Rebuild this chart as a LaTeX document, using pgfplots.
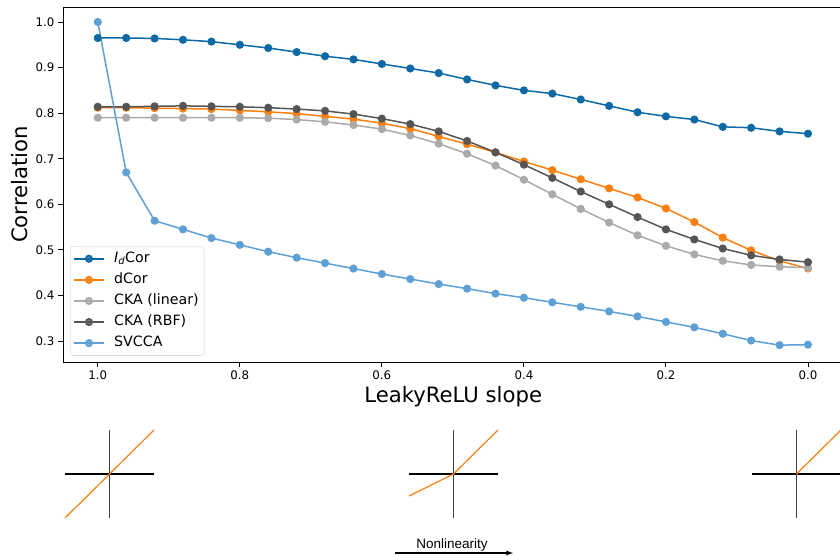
\documentclass[border=0pt]{standalone}
\usepackage{fontspec}
\setmainfont{DejaVu Sans}
\newfontfamily\lib{Liberation Sans}
\usepackage{pgfplots}
\pgfplotsset{compat=1.18}
\usepackage{pgfplotstable}

\definecolor{cidcor}{HTML}{0B6AA6}
\definecolor{cdcor}{HTML}{FF7F0E}
\definecolor{ckal}{HTML}{AAAAAA}
\definecolor{ckar}{HTML}{555555}
\definecolor{csvcca}{HTML}{5DA0D6}

% slope, IdCor, dCor, CKA linear, CKA RBF, SVCCA
\pgfplotstableread{
s    idcor dcor  ckal  ckar  svcca
1.00 0.965 0.812 0.790 0.814 1.000
0.96 0.965 0.812 0.790 0.814 0.670
0.92 0.964 0.811 0.790 0.815 0.564
0.88 0.961 0.810 0.790 0.816 0.545
0.84 0.957 0.809 0.790 0.815 0.526
0.80 0.950 0.806 0.790 0.814 0.511
0.76 0.943 0.803 0.789 0.812 0.496
0.72 0.934 0.799 0.786 0.809 0.483
0.68 0.925 0.793 0.781 0.805 0.471
0.64 0.918 0.787 0.774 0.798 0.459
0.60 0.908 0.778 0.765 0.788 0.447
0.56 0.898 0.766 0.751 0.776 0.436
0.52 0.888 0.749 0.733 0.760 0.425
0.48 0.874 0.732 0.711 0.739 0.415
0.44 0.861 0.714 0.685 0.714 0.404
0.40 0.850 0.694 0.654 0.687 0.395
0.36 0.843 0.675 0.622 0.658 0.385
0.32 0.830 0.655 0.590 0.628 0.375
0.28 0.816 0.635 0.560 0.600 0.365
0.24 0.802 0.615 0.532 0.572 0.354
0.20 0.793 0.591 0.509 0.545 0.342
0.16 0.786 0.561 0.490 0.523 0.330
0.12 0.770 0.527 0.476 0.503 0.316
0.08 0.768 0.499 0.467 0.488 0.301
0.04 0.760 0.476 0.463 0.479 0.291
0.00 0.755 0.459 0.461 0.473 0.292
}\corr

\begin{document}
\begin{tikzpicture}[x=1pt,y=1pt]
\useasboundingbox (0,0) rectangle (840,556);

\begin{axis}[
    at={(63pt,194pt)}, anchor=south west,
    scale only axis, width=780.5pt, height=355pt,
    x dir=reverse,
    xmin=-0.05, xmax=1.049, ymin=0.254, ymax=1.033,
    xtick={0,0.2,0.4,0.6,0.8,1},
    ytick={0.3,0.4,0.5,0.6,0.7,0.8,0.9,1.0},
    tick pos=left, tick align=outside,
    major tick length=5pt,
    tick style={black, line width=0.9pt},
    axis line style={line width=0.9pt},
    /pgf/number format/assume math mode=true,
    /pgf/number format/.cd, fixed, fixed zerofill, precision=1, /pgfplots/.cd,
    ticklabel style={font=\fontsize{11.8}{13}\selectfont},
    xlabel={LeakyReLU slope}, ylabel={Correlation},
    label style={font=\fontsize{21.2}{24}\selectfont},
    xlabel style={at={(axis description cs:0.5,-0.1155)}, anchor=base},
    ylabel style={at={(axis description cs:-0.0461,0.5)}, anchor=base},
    ser/.style={line width=1.5pt, mark=*, mark size=3.3pt, mark options={solid}},
    legend cell align=left,
    legend image code/.code={%
        \draw[mark repeat=2,mark phase=2] plot coordinates {(0pt,0pt)(15pt,0pt)(30pt,0pt)};},
    legend style={at={(axis description cs:0.009,0.018)}, anchor=south west,
        rounded corners=2.5pt, draw=black!20, fill=white, fill opacity=0.8,
        draw opacity=1, text opacity=1,
        font=\fontsize{14.2}{16}\selectfont,
        nodes={inner sep=2.5pt, text height=10pt, text depth=3.5pt},
        row sep=2.6pt, column sep=7pt, inner xsep=3pt, inner ysep=3pt},
]
\addplot[cidcor, ser] table[x=s,y=idcor] {\corr};
\addlegendentry{{\itshape I}\textsubscript{\itshape d}Cor}
\addplot[cdcor, ser] table[x=s,y=dcor] {\corr};
\addlegendentry{dCor}
\addplot[ckal, ser] table[x=s,y=ckal] {\corr};
\addlegendentry{CKA (linear)}
\addplot[ckar, ser] table[x=s,y=ckar] {\corr};
\addlegendentry{CKA (RBF)}
\addplot[csvcca, ser] table[x=s,y=svcca] {\corr};
\addlegendentry{SVCCA}
\end{axis}

% LeakyReLU shapes
\pgfplotsset{relu/.style={at={(#1,38pt)}, anchor=south west, scale only axis,
    width=89pt, height=88pt, hide axis, xmin=-1, xmax=1, ymin=-1, ymax=1, clip=false}}
\begin{axis}[relu=65pt]
\addplot[black, line width=1.1pt] coordinates {(-1,0) (1,0)};
\addplot[black!75, line width=0.7pt] coordinates {(0,-1) (0,1)};
\addplot[cdcor, line width=1.2pt] coordinates {(-1,-1) (0,0) (1,1)};
\end{axis}
\begin{axis}[relu=409pt]
\addplot[black, line width=1.1pt] coordinates {(-1,0) (1,0)};
\addplot[black!75, line width=0.7pt] coordinates {(0,-1) (0,1)};
\addplot[cdcor, line width=1.2pt] coordinates {(-1,-0.5) (0,0) (1,1)};
\end{axis}
\begin{axis}[relu=752pt]
\addplot[cdcor!50, line width=2pt] coordinates {(-1,0) (0,0)};
\addplot[black, line width=1.1pt] coordinates {(-1,0) (1,0)};
\addplot[black!75, line width=0.7pt] coordinates {(0,-1) (0,1)};
\addplot[cdcor, line width=1.2pt] coordinates {(0,0) (1,1)};
\end{axis}

\node[font=\lib\fontsize{13.5}{15}\selectfont, anchor=base] at (452,7) {Nonlinearity};
\draw[-latex, line width=1.3pt] (395,3) -- (513,3);
\end{tikzpicture}
\end{document}
